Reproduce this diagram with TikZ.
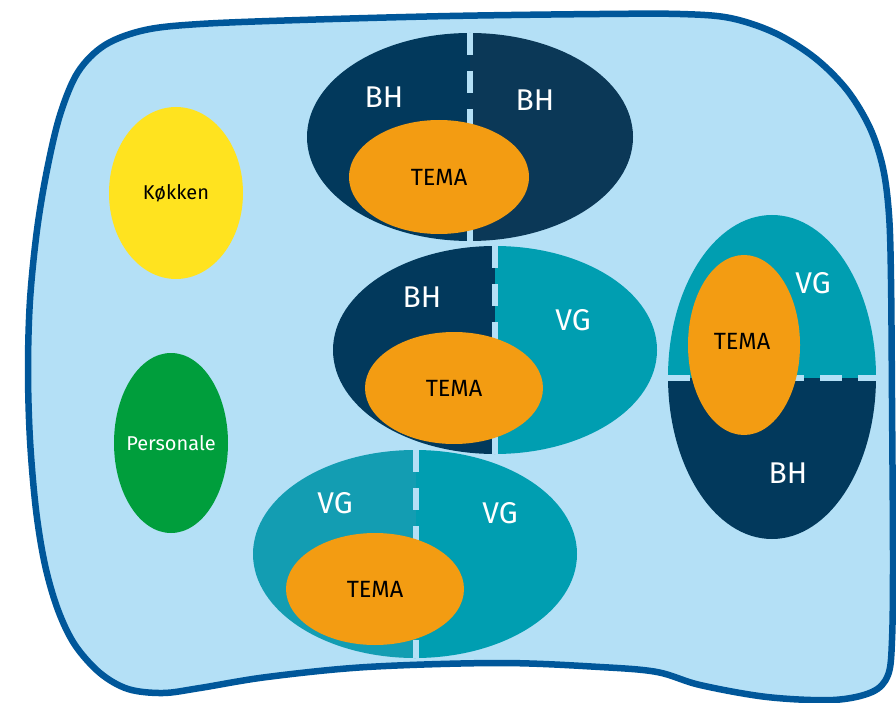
\documentclass[tikz,border=0pt]{standalone}
\usepackage{fontspec}
\setmainfont{Fira Sans}
\usepackage{tikz}
\usetikzlibrary{shapes.geometric}

\definecolor{skyfill}{HTML}{B4E0F6}
\definecolor{rimblue}{HTML}{00579A}
\definecolor{navy}{HTML}{02395C}
\definecolor{navydark}{HTML}{0B3857}
\definecolor{teal}{HTML}{009EB1}
\definecolor{tealpale}{HTML}{139DB2}
\definecolor{temaorange}{HTML}{F39C12}
\definecolor{kyellow}{HTML}{FFE31F}
\definecolor{pgreen}{HTML}{009E3C}

\begin{document}
\begin{tikzpicture}[x=1pt, y=-1pt,
    lbl/.style={text=white, font=\fontsize{30}{30}\selectfont},
    tema/.style={ellipse, fill=temaorange, inner sep=0pt, text=black,
      font=\fontsize{23.5}{23.5}\selectfont},
    room/.style={ellipse, inner sep=0pt, label distance=0pt},
    roomtext/.style={font=\fontsize{20}{20}\selectfont},
    divider/.style={draw=skyfill, line width=6.5pt, dash pattern=on 22pt off 16pt}]
    \useasboundingbox (0,0) rectangle (896,703);

    % the house
    \draw[line width=6.5pt, draw=rimblue, fill=skyfill] plot[smooth cycle, tension=0.55] coordinates {
      (200,24) (300,20) (450,16) (600,14) (680,14) (730,18) (775,33) (815,58)
      (847,90) (870,128) (883,168) (889,215) (891,280) (892,400) (893,560)
      (892,640) (888,675) (872,692) (833,700) (767,697) (700,685) (657,672)
      (600,667) (500,663) (367,667) (267,677) (200,688) (163,693) (128,689)
      (100,673) (75,645) (58,610) (45,565) (36,510) (30,440) (28,370) (30,300)
      (37,230) (47,170) (60,115) (78,72) (105,45) (145,30)};

    % rooms
    \node[room, fill=kyellow, minimum width=134pt, minimum height=172pt,
      label={[roomtext]center:Køkken}] (kitchen) at (176,193) {};
    \node[room, fill=pgreen, minimum width=114pt, minimum height=180pt,
      label={[roomtext, text=white]center:Personale}] (staff) at (171,443) {};

    % BH | BH
    \begin{scope}
      \clip (470,137) ellipse [x radius=163, y radius=104];
      \fill[navy] (300,30) rectangle (470,245);
      \fill[navydark] (470,30) rectangle (640,245);
    \end{scope}
    \draw[divider] (470,33) -- (470,241);
    \node[tema, minimum width=180pt, minimum height=114pt] (tema1) at (439,177) {TEMA};
    \node[lbl] (bh1) at (384,97) {BH};
    \node[lbl] (bh2) at (535,100) {BH};

    % BH | VG
    \begin{scope}
      \clip (495,350) ellipse [x radius=162, y radius=104];
      \fill[navy] (330,240) rectangle (495,460);
      \fill[teal] (495,240) rectangle (660,460);
    \end{scope}
    \draw[divider] (495,246) -- (495,454);
    \node[tema, minimum width=178pt, minimum height=112pt] (tema2) at (454,388) {TEMA};
    \node[lbl] (bh3) at (422,297) {BH};
    \node[lbl] (vg1) at (573,320) {VG};

    % VG | VG
    \begin{scope}
      \clip (415,554) ellipse [x radius=162, y radius=104];
      \fill[tealpale] (250,445) rectangle (416,665);
      \fill[teal] (416,445) rectangle (580,665);
    \end{scope}
    \draw[divider] (416,450) -- (416,658);
    \node[tema, minimum width=178pt, minimum height=112pt] (tema3) at (375,589) {TEMA};
    \node[lbl] (vg2) at (335,503) {VG};
    \node[lbl] (vg3) at (500,513) {VG};

    % VG over BH
    \begin{scope}
      \clip (772,377) ellipse [x radius=104, y radius=162];
      \fill[teal] (660,210) rectangle (880,378);
      \fill[navy] (660,378) rectangle (880,545);
    \end{scope}
    \draw[divider] (668,378) -- (877,378);
    \node[tema, minimum width=112pt, minimum height=180pt] (tema4) at (744,345) {};
    \node[text=black, font=\fontsize{23.5}{23.5}\selectfont] (tema4text) at (742,341) {TEMA};
    \node[lbl] (vg4) at (813,283) {VG};
    \node[lbl] (bh4) at (788,473) {BH};
\end{tikzpicture}
\end{document}
